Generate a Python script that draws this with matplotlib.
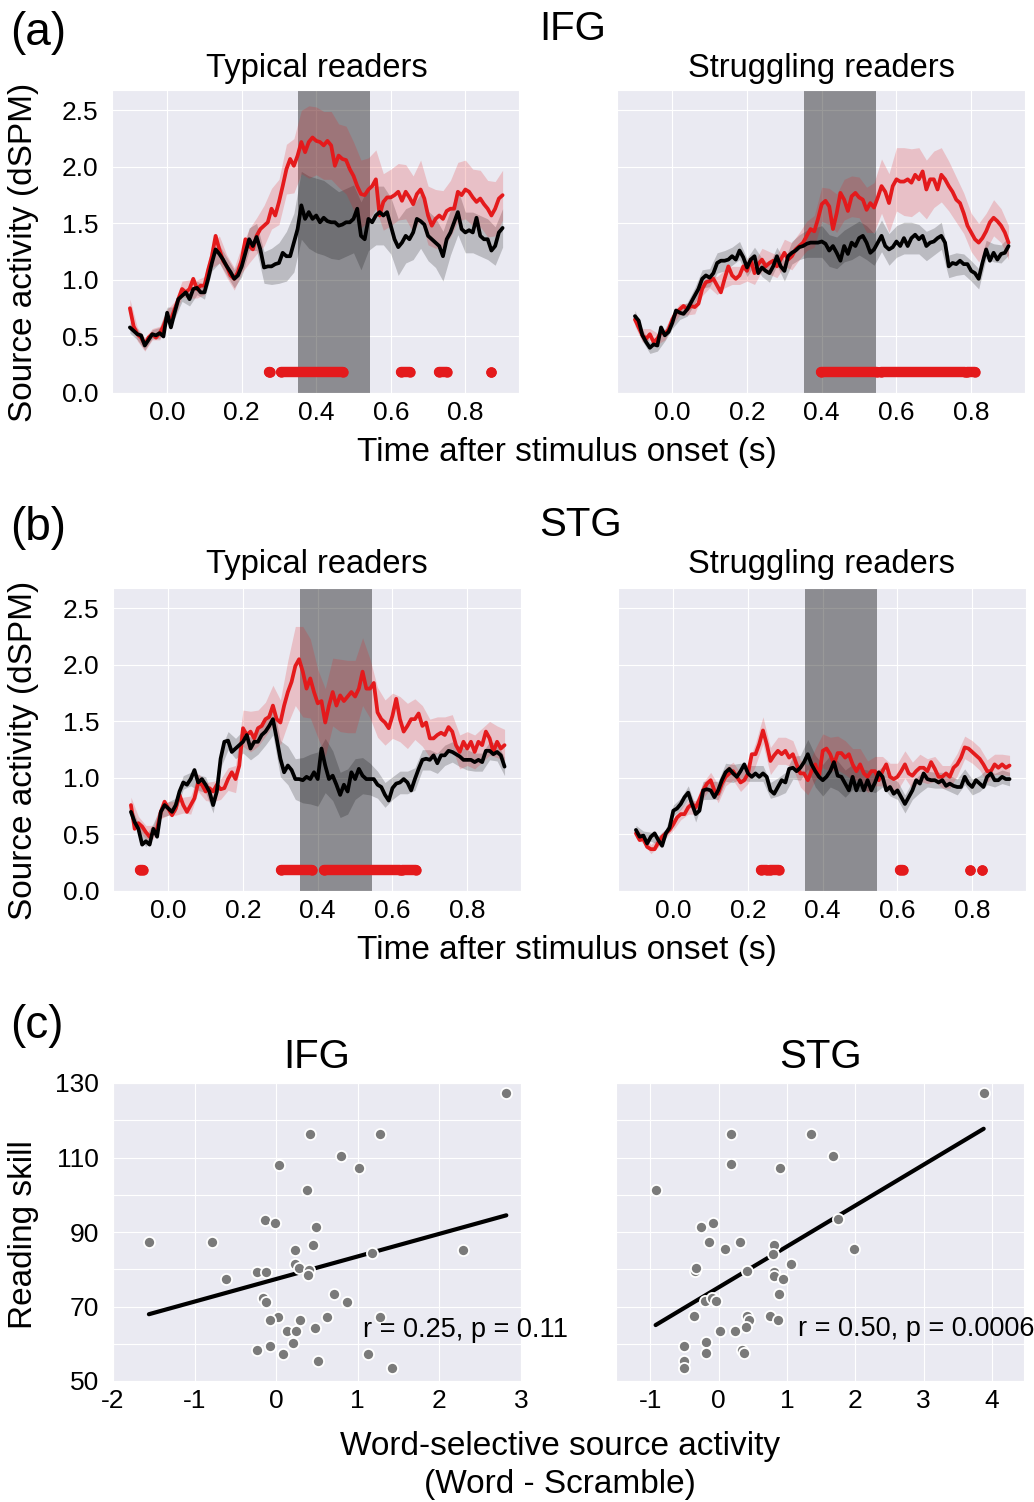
import numpy as np
import matplotlib
matplotlib.use('Agg')
import matplotlib.pyplot as plt
import seaborn as sns

sns.set_style('darkgrid')
plt.rcParams['font.family'] = ['Liberation Sans', 'DejaVu Sans']
plt.rcParams['text.color'] = 'black'
plt.rcParams['xtick.color'] = 'black'
plt.rcParams['ytick.color'] = 'black'

# ---------------- data ----------------
# sample times (s) of the source time courses, every 10 ms
times = np.linspace(-0.1, 0.9, 101)
# the confidence bands are read every 20 ms
band_times = times[::2]

# IFG, typical readers
ifg_typ_word = [0.75, 0.59, 0.52, 0.49, 0.43, 0.49, 0.52, 0.49, 0.53, 0.59,
                0.68, 0.65, 0.74, 0.83, 0.92, 0.89, 0.92, 1.01, 0.92, 0.95,
                0.95, 1.09, 1.21, 1.39, 1.27, 1.17, 1.12, 1.04, 1.01, 1.07,
                1.18, 1.36, 1.30, 1.27, 1.39, 1.45, 1.48, 1.51, 1.63, 1.57,
                1.69, 1.83, 1.98, 2.07, 2.01, 2.10, 2.22, 2.13, 2.22, 2.26,
                2.23, 2.22, 2.19, 2.23, 2.19, 2.01, 2.10, 2.07, 2.06, 1.98,
                1.92, 1.83, 1.76, 1.75, 1.80, 1.83, 1.89, 1.57, 1.69, 1.73,
                1.73, 1.75, 1.78, 1.70, 1.78, 1.73, 1.67, 1.76, 1.80, 1.72,
                1.57, 1.48, 1.54, 1.57, 1.54, 1.61, 1.63, 1.63, 1.78, 1.75,
                1.80, 1.78, 1.73, 1.69, 1.72, 1.67, 1.63, 1.57, 1.63, 1.72,
                1.75]
ifg_typ_scr = [0.58, 0.55, 0.52, 0.51, 0.42, 0.47, 0.52, 0.51, 0.53, 0.50,
               0.71, 0.58, 0.71, 0.83, 0.86, 0.89, 0.83, 0.92, 0.93, 0.89,
               0.89, 1.01, 1.15, 1.27, 1.23, 1.18, 1.12, 1.07, 1.01, 1.04,
               1.12, 1.24, 1.36, 1.30, 1.38, 1.27, 1.11, 1.12, 1.12, 1.14,
               1.15, 1.24, 1.21, 1.21, 1.33, 1.45, 1.66, 1.54, 1.60, 1.54,
               1.57, 1.51, 1.55, 1.52, 1.51, 1.51, 1.48, 1.49, 1.51, 1.51,
               1.54, 1.63, 1.39, 1.36, 1.54, 1.51, 1.57, 1.60, 1.57, 1.60,
               1.48, 1.36, 1.29, 1.33, 1.39, 1.36, 1.42, 1.54, 1.52, 1.49,
               1.39, 1.36, 1.33, 1.30, 1.21, 1.36, 1.42, 1.51, 1.60, 1.45,
               1.42, 1.44, 1.42, 1.55, 1.39, 1.36, 1.36, 1.26, 1.30, 1.42,
               1.46]
ifg_typ_word_err = [0.08, 0.06, 0.06, 0.05, 0.06, 0.06, 0.07, 0.07, 0.08, 0.08, 0.08,
                    0.10, 0.12, 0.10, 0.10, 0.12, 0.15, 0.16, 0.18, 0.18, 0.20,
                    0.22, 0.24, 0.28, 0.32, 0.30, 0.30, 0.30, 0.28, 0.30, 0.30,
                    0.30, 0.28, 0.26, 0.25, 0.25, 0.25, 0.24, 0.25, 0.26, 0.26,
                    0.26, 0.25, 0.25, 0.26, 0.26, 0.25, 0.25, 0.25, 0.24, 0.22]
ifg_typ_scr_err = [0.05, 0.05, 0.04, 0.04, 0.05, 0.05, 0.05, 0.05, 0.06, 0.06, 0.06,
                   0.07, 0.08, 0.08, 0.08, 0.09, 0.10, 0.12, 0.14, 0.16, 0.18,
                   0.22, 0.26, 0.30, 0.32, 0.33, 0.33, 0.32, 0.30, 0.30, 0.30,
                   0.30, 0.28, 0.26, 0.26, 0.25, 0.25, 0.24, 0.24, 0.24, 0.22,
                   0.22, 0.22, 0.20, 0.20, 0.18, 0.18, 0.18, 0.18, 0.17, 0.17]

# IFG, struggling readers
ifg_str_word = [0.65, 0.58, 0.51, 0.48, 0.52, 0.45, 0.48, 0.54, 0.52, 0.56,
                0.65, 0.71, 0.74, 0.77, 0.74, 0.77, 0.76, 0.79, 0.92, 0.98,
                0.99, 1.01, 0.95, 0.89, 1.01, 1.12, 1.04, 1.01, 1.04, 1.12,
                1.08, 1.18, 1.06, 1.14, 1.18, 1.12, 1.15, 1.17, 1.12, 1.18,
                1.24, 1.18, 1.21, 1.27, 1.30, 1.33, 1.39, 1.45, 1.43, 1.54,
                1.67, 1.70, 1.65, 1.45, 1.59, 1.77, 1.71, 1.61, 1.74, 1.77,
                1.73, 1.71, 1.62, 1.68, 1.64, 1.73, 1.83, 1.78, 1.68, 1.83,
                1.89, 1.87, 1.87, 1.89, 1.86, 1.93, 1.89, 1.96, 1.80, 1.89,
                1.89, 1.80, 1.93, 1.89, 1.83, 1.78, 1.71, 1.68, 1.59, 1.48,
                1.42, 1.36, 1.33, 1.37, 1.43, 1.51, 1.55, 1.52, 1.48, 1.42,
                1.33]
ifg_str_scr = [0.68, 0.64, 0.51, 0.45, 0.40, 0.43, 0.42, 0.58, 0.51, 0.54,
               0.62, 0.73, 0.71, 0.70, 0.74, 0.80, 0.86, 0.92, 1.01, 1.04,
               1.02, 1.06, 1.15, 1.17, 1.17, 1.18, 1.21, 1.18, 1.26, 1.20,
               1.11, 1.18, 1.21, 1.06, 1.11, 1.08, 1.06, 1.12, 1.21, 1.12,
               1.08, 1.21, 1.24, 1.26, 1.29, 1.30, 1.32, 1.33, 1.33, 1.33,
               1.34, 1.32, 1.26, 1.30, 1.24, 1.17, 1.30, 1.23, 1.33, 1.30,
               1.37, 1.39, 1.33, 1.24, 1.27, 1.33, 1.39, 1.30, 1.27, 1.29,
               1.34, 1.30, 1.37, 1.30, 1.37, 1.40, 1.36, 1.39, 1.30, 1.33,
               1.34, 1.37, 1.39, 1.33, 1.12, 1.15, 1.14, 1.17, 1.14, 1.14,
               1.08, 1.06, 1.01, 1.15, 1.27, 1.17, 1.24, 1.18, 1.23, 1.24,
               1.30]
ifg_str_word_err = [0.06, 0.06, 0.05, 0.05, 0.05, 0.05, 0.05, 0.05, 0.06, 0.06, 0.06,
                    0.08, 0.08, 0.08, 0.08, 0.09, 0.10, 0.10, 0.10, 0.10, 0.12,
                    0.12, 0.12, 0.13, 0.14, 0.15, 0.16, 0.17, 0.18, 0.18, 0.18,
                    0.20, 0.22, 0.24, 0.26, 0.28, 0.30, 0.30, 0.28, 0.26, 0.25,
                    0.24, 0.22, 0.20, 0.18, 0.17, 0.17, 0.16, 0.16, 0.15, 0.15]
ifg_str_scr_err = [0.05, 0.05, 0.05, 0.05, 0.05, 0.05, 0.06, 0.06, 0.07, 0.08, 0.08,
                   0.09, 0.09, 0.08, 0.08, 0.08, 0.08, 0.08, 0.08, 0.08, 0.09,
                   0.10, 0.11, 0.12, 0.13, 0.14, 0.14, 0.14, 0.14, 0.15, 0.15,
                   0.15, 0.14, 0.14, 0.14, 0.14, 0.14, 0.14, 0.13, 0.13, 0.12,
                   0.12, 0.10, 0.10, 0.09, 0.09, 0.09, 0.08, 0.08, 0.08, 0.08]

# STG, typical readers
stg_typ_word = [0.76, 0.55, 0.60, 0.57, 0.52, 0.48, 0.52, 0.55, 0.70, 0.79,
                0.73, 0.67, 0.73, 0.85, 0.76, 0.70, 0.76, 0.82, 0.96, 0.94,
                0.88, 0.91, 0.88, 0.94, 0.90, 0.91, 0.99, 1.05, 0.99, 1.11,
                1.44, 1.38, 1.41, 1.35, 1.44, 1.46, 1.52, 1.54, 1.64, 1.52,
                1.49, 1.64, 1.76, 1.85, 1.99, 2.05, 1.94, 1.79, 1.88, 1.76,
                1.66, 1.68, 1.49, 1.64, 1.76, 1.64, 1.73, 1.68, 1.72, 1.76,
                1.72, 1.79, 1.94, 1.79, 1.79, 1.84, 1.58, 1.52, 1.49, 1.44,
                1.55, 1.70, 1.52, 1.41, 1.46, 1.52, 1.52, 1.57, 1.46, 1.49,
                1.35, 1.35, 1.38, 1.40, 1.38, 1.45, 1.41, 1.29, 1.23, 1.32,
                1.26, 1.32, 1.23, 1.32, 1.29, 1.41, 1.35, 1.23, 1.32, 1.26,
                1.29]
stg_typ_scr = [0.70, 0.61, 0.55, 0.41, 0.44, 0.41, 0.55, 0.48, 0.70, 0.76,
               0.73, 0.70, 0.76, 0.88, 0.96, 0.94, 0.99, 1.07, 0.96, 0.99,
               0.94, 0.88, 0.76, 0.88, 1.17, 1.32, 1.33, 1.23, 1.26, 1.29,
               1.32, 1.38, 1.26, 1.32, 1.32, 1.38, 1.41, 1.46, 1.52, 1.35,
               1.17, 1.05, 1.11, 1.07, 0.99, 0.99, 0.98, 1.01, 0.99, 1.05,
               0.99, 1.26, 1.11, 0.99, 1.02, 0.94, 0.85, 0.94, 0.88, 1.05,
               0.99, 1.08, 1.02, 0.99, 0.99, 0.99, 0.94, 0.92, 0.85, 0.80,
               0.91, 0.95, 0.96, 0.99, 0.96, 0.89, 0.99, 1.08, 1.16, 1.17,
               1.16, 1.20, 1.13, 1.20, 1.20, 1.24, 1.23, 1.21, 1.19, 1.16,
               1.16, 1.16, 1.14, 1.16, 1.14, 1.24, 1.24, 1.21, 1.23, 1.20,
               1.10]
stg_typ_word_err = [0.07, 0.06, 0.06, 0.06, 0.06, 0.06, 0.06, 0.07, 0.08, 0.08, 0.08,
                    0.09, 0.09, 0.10, 0.12, 0.16, 0.18, 0.16, 0.15, 0.18, 0.20,
                    0.28, 0.35, 0.40, 0.35, 0.30, 0.30, 0.30, 0.32, 0.32, 0.32,
                    0.30, 0.26, 0.22, 0.20, 0.20, 0.20, 0.20, 0.18, 0.18, 0.17,
                    0.16, 0.16, 0.15, 0.15, 0.15, 0.15, 0.15, 0.15, 0.14, 0.14]
stg_typ_scr_err = [0.05, 0.05, 0.05, 0.05, 0.05, 0.06, 0.06, 0.06, 0.06, 0.07, 0.07,
                   0.07, 0.08, 0.08, 0.09, 0.10, 0.10, 0.11, 0.12, 0.14, 0.16,
                   0.17, 0.18, 0.20, 0.22, 0.24, 0.24, 0.22, 0.20, 0.20, 0.18,
                   0.16, 0.14, 0.12, 0.11, 0.10, 0.10, 0.10, 0.10, 0.09, 0.09,
                   0.09, 0.09, 0.09, 0.09, 0.09, 0.08, 0.08, 0.08, 0.08, 0.08]

# STG, struggling readers
stg_str_word = [0.51, 0.45, 0.46, 0.39, 0.37, 0.37, 0.43, 0.48, 0.51, 0.54,
                0.59, 0.65, 0.68, 0.68, 0.74, 0.77, 0.74, 0.81, 0.89, 0.95,
                0.98, 0.89, 0.86, 0.95, 1.01, 1.04, 1.06, 1.01, 0.96, 0.98,
                1.04, 1.21, 1.21, 1.30, 1.42, 1.30, 1.15, 1.20, 1.24, 1.21,
                1.24, 1.18, 1.21, 1.12, 1.04, 1.04, 0.98, 1.06, 1.12, 1.01,
                1.24, 1.26, 1.21, 1.12, 1.22, 1.22, 1.18, 1.21, 1.12, 1.06,
                1.12, 1.04, 1.01, 1.06, 1.06, 0.98, 1.06, 1.12, 1.01, 0.99,
                1.01, 1.06, 1.12, 1.04, 1.02, 1.06, 1.09, 1.09, 1.06, 1.14,
                1.08, 1.01, 1.01, 1.04, 1.01, 1.09, 1.12, 1.18, 1.27, 1.26,
                1.23, 1.20, 1.17, 1.12, 1.06, 1.06, 1.12, 1.09, 1.12, 1.09,
                1.11]
stg_str_scr = [0.54, 0.48, 0.49, 0.42, 0.48, 0.51, 0.45, 0.40, 0.51, 0.56,
               0.71, 0.73, 0.77, 0.83, 0.87, 0.77, 0.68, 0.71, 0.89, 0.90,
               0.89, 0.83, 0.89, 0.98, 1.05, 1.08, 1.04, 1.01, 1.06, 1.12,
               1.04, 1.01, 1.04, 1.01, 1.04, 1.01, 0.89, 0.86, 0.92, 0.98,
               0.96, 1.08, 1.09, 1.06, 1.09, 1.14, 1.21, 1.12, 1.06, 1.01,
               0.98, 1.01, 1.06, 1.14, 1.02, 1.01, 0.95, 0.89, 1.01, 0.89,
               0.98, 0.89, 0.98, 0.89, 0.96, 1.05, 1.01, 0.89, 0.92, 0.86,
               0.89, 0.83, 0.77, 0.83, 0.89, 0.98, 0.95, 1.04, 0.99, 0.98,
               0.98, 0.96, 0.98, 0.93, 0.95, 0.93, 0.92, 0.92, 1.01, 0.95,
               0.92, 0.98, 0.95, 0.92, 1.01, 1.04, 0.98, 0.98, 1.01, 0.99,
               0.99]
stg_str_word_err = [0.04, 0.04, 0.04, 0.04, 0.04, 0.05, 0.05, 0.06, 0.06, 0.07, 0.07,
                    0.08, 0.08, 0.08, 0.08, 0.09, 0.10, 0.12, 0.12, 0.12, 0.12,
                    0.12, 0.12, 0.13, 0.14, 0.15, 0.15, 0.15, 0.15, 0.14, 0.14,
                    0.14, 0.13, 0.13, 0.12, 0.12, 0.12, 0.12, 0.12, 0.11, 0.11,
                    0.10, 0.10, 0.10, 0.10, 0.10, 0.10, 0.10, 0.09, 0.09, 0.09]
stg_str_scr_err = [0.04, 0.04, 0.04, 0.04, 0.04, 0.05, 0.05, 0.06, 0.07, 0.08, 0.08,
                   0.08, 0.08, 0.08, 0.07, 0.07, 0.07, 0.07, 0.07, 0.08, 0.09,
                   0.10, 0.11, 0.13, 0.14, 0.14, 0.14, 0.13, 0.12, 0.11, 0.10,
                   0.09, 0.09, 0.09, 0.08, 0.08, 0.08, 0.08, 0.08, 0.07, 0.07,
                   0.07, 0.07, 0.07, 0.07, 0.07, 0.07, 0.07, 0.06, 0.06, 0.06]

# time windows (start, end) where word vs scramble differ
ifg_typ_sig = [(0.272, 0.277), (0.305, 0.472), (0.628, 0.651), (0.729, 0.750), (0.869, 0.869)]
ifg_str_sig = [(0.397, 0.548), (0.558, 0.783), (0.790, 0.811)]
stg_typ_sig = [(-0.077, -0.068), (0.302, 0.385), (0.418, 0.620), (0.625, 0.664)]
stg_str_sig = [(0.234, 0.250), (0.258, 0.283), (0.607, 0.616), (0.795, 0.795), (0.826, 0.826)]
sig_level = 0.19

# analysis window shown in grey
window = (0.352, 0.544)

# word-selective activity vs reading skill
ifg_x = [2.82, 0.41, 1.27, 0.80, 0.03, 1.02, 0.38, -0.14, -0.01, 0.49, -1.56, -0.79,
         0.45, 0.23, 2.29, 1.18, 0.23, 0.28, 0.40, 0.39, -0.23, -0.13, -0.61, 0.71,
         0.87, -0.16, -0.12, 0.02, -0.07, 0.29, 0.62, 1.27, 0.13, 0.24, 0.48, 0.20,
         -0.24, -0.08, 0.08, 1.12, 0.51, 1.42]
ifg_skill = [127.2, 116.3, 116.3, 110.3, 108.1, 107.3, 101.2, 93.3, 92.3, 91.3, 87.3, 87.3,
             86.4, 85.2, 85.3, 84.3, 81.3, 80.3, 79.7, 78.4, 79.3, 79.3, 77.3, 73.4,
             71.3, 72.3, 71.3, 67.3, 66.4, 66.4, 67.3, 67.3, 63.3, 63.3, 64.3, 60.3,
             58.3, 59.3, 57.3, 57.3, 55.3, 53.4]
stg_x = [3.88, 0.19, 1.36, 1.67, 0.19, 0.90, -0.92, 1.75, -0.26, -0.08, -0.14, 0.10,
         0.31, 0.81, 0.79, 1.98, 1.06, -0.35, -0.33, 0.41, 0.81, 0.81, 0.94, 0.89,
         -0.20, -0.09, -0.03, -0.36, 0.42, 0.45, 0.76, 0.87, 0.40, 0.02, 0.24, -0.18,
         -0.51, -0.18, 0.35, 0.37, -0.51, -0.51]
stg_skill = [127.3, 116.4, 116.4, 110.3, 108.3, 107.3, 101.3, 93.4, 91.3, 92.3, 87.4, 85.4,
             87.4, 86.5, 84.2, 85.4, 81.4, 79.6, 80.4, 79.4, 79.3, 78.3, 77.4, 73.3,
             71.5, 72.4, 71.5, 67.4, 67.4, 66.5, 67.4, 66.5, 64.4, 63.4, 63.4, 60.4,
             59.4, 57.4, 58.4, 57.5, 55.4, 53.4]
ifg_stats = 'r = 0.25, p = 0.11'
stg_stats = 'r = 0.50, p = 0.0006'

# ---------------- drawing ----------------
RED = '#e41a1c'
W, H = 1034, 1502
TICK_FS = 19


def px_axes(fig, x0, y0, x1, y1):
    """add axes from pixel box (left, top, right, bottom)"""
    return fig.add_axes([x0 / W, 1 - y1 / H, (x1 - x0) / W, (y1 - y0) / H])


def px_text(fig, x, y, s, **kw):
    fig.text(x / W, 1 - y / H, s, **kw)


def plot_course(ax, word, scr, word_err, scr_err, sig, show_y):
    word = np.asarray(word)
    scr = np.asarray(scr)
    ax.axvspan(window[0], window[1], color='k', alpha=0.4, lw=0, zorder=1)
    ax.fill_between(band_times, scr[::2] - scr_err, scr[::2] + scr_err,
                    color='k', alpha=0.2, lw=0, zorder=2)
    ax.fill_between(band_times, word[::2] - word_err, word[::2] + word_err,
                    color=RED, alpha=0.2, lw=0, zorder=2)
    ax.plot(times, word, color=RED, lw=2.7, zorder=3)
    ax.plot(times, scr, color='k', lw=2.7, zorder=4)
    for s, e in sig:
        ax.plot([s, e], [sig_level, sig_level], color=RED, lw=7.5,
                solid_capstyle='round', marker='o', ms=7.5, mew=0, zorder=5)
    ax.set_xlim(-0.148, 0.944)
    ax.set_ylim(0, 2.68)
    ax.set_xticks([0, 0.2, 0.4, 0.6, 0.8])
    ax.set_xticklabels(['0.0', '0.2', '0.4', '0.6', '0.8'])
    ax.set_yticks([0, 0.5, 1.0, 1.5, 2.0, 2.5])
    if show_y:
        ax.set_yticklabels(['0.0', '0.5', '1.0', '1.5', '2.0', '2.5'])
    else:
        ax.set_yticklabels([])
    ax.tick_params(axis='both', labelsize=TICK_FS, length=0)
    ax.tick_params(axis='x', pad=6)
    ax.tick_params(axis='y', pad=10)


def plot_scatter(ax, x, y, stats, xlim, xticks, text_xy, show_y):
    x = np.asarray(x)
    y = np.asarray(y)
    slope, icpt = np.polyfit(x, y, 1)
    xs = np.array([x.min(), x.max()])
    ax.plot(xs, icpt + slope * xs, color='k', lw=3, zorder=2)
    ax.scatter(x, y, s=64, color='#7a7a7a', edgecolor='white', linewidth=1.3, zorder=3)
    ax.text(text_xy[0], text_xy[1], stats, fontsize=19.5, va='center', ha='left', zorder=4)
    ax.set_xlim(*xlim)
    ax.set_ylim(50, 130)
    ax.set_xticks(xticks)
    ax.set_xticklabels([str(t) for t in xticks])
    ax.set_yticks(range(50, 131, 10))
    if show_y:
        ax.set_yticklabels([str(v) if v % 20 == 10 else '' for v in range(50, 131, 10)])
    else:
        ax.set_yticklabels([])
    ax.tick_params(axis='both', labelsize=TICK_FS, length=0)
    ax.tick_params(axis='x', pad=6)
    ax.tick_params(axis='y', pad=10)


fig = plt.figure(figsize=(W / 100, H / 100), dpi=100)

ax1 = px_axes(fig, 112, 90, 519, 393)
ax2 = px_axes(fig, 617, 90, 1025, 393)
ax3 = px_axes(fig, 113, 588, 521, 891)
ax4 = px_axes(fig, 618, 588, 1026, 891)
ax5 = px_axes(fig, 113, 1083, 521, 1381)
ax6 = px_axes(fig, 616, 1083, 1024, 1381)

plot_course(ax1, ifg_typ_word, ifg_typ_scr, ifg_typ_word_err, ifg_typ_scr_err, ifg_typ_sig, True)
plot_course(ax2, ifg_str_word, ifg_str_scr, ifg_str_word_err, ifg_str_scr_err, ifg_str_sig, False)
plot_course(ax3, stg_typ_word, stg_typ_scr, stg_typ_word_err, stg_typ_scr_err, stg_typ_sig, True)
plot_course(ax4, stg_str_word, stg_str_scr, stg_str_word_err, stg_str_scr_err, stg_str_sig, False)

plot_scatter(ax5, ifg_x, ifg_skill, ifg_stats, (-2, 3), [-2, -1, 0, 1, 2, 3], (1.06, 63.6), True)
plot_scatter(ax6, stg_x, stg_skill, stg_stats, (-1.5, 4.47), [-1, 0, 1, 2, 3, 4], (1.17, 64.0), False)

# panel letters and titles
px_text(fig, 10, 33, '(a)', fontsize=33, va='center', ha='left')
px_text(fig, 10, 528, '(b)', fontsize=33, va='center', ha='left')
px_text(fig, 10, 1026, '(c)', fontsize=33, va='center', ha='left')
px_text(fig, 573, 29, 'IFG', fontsize=29, va='center', ha='center')
px_text(fig, 580, 525, 'STG', fontsize=29, va='center', ha='center')
for yy in (69, 564):
    px_text(fig, 317, yy, 'Typical readers', fontsize=23.5, va='center', ha='center')
    px_text(fig, 821, yy, 'Struggling readers', fontsize=23.5, va='center', ha='center')
px_text(fig, 317, 1057, 'IFG', fontsize=29, va='center', ha='center')
px_text(fig, 820, 1057, 'STG', fontsize=29, va='center', ha='center')

# axis labels
for yy in (453, 950):
    px_text(fig, 567, yy, 'Time after stimulus onset (s)', fontsize=24, va='center', ha='center')
for yy in (252, 750):
    px_text(fig, 24, yy, 'Source activity (dSPM)', fontsize=24, va='center', ha='center', rotation=90)
px_text(fig, 24, 1235, 'Reading skill', fontsize=24, va='center', ha='center', rotation=90)
px_text(fig, 560, 1447, 'Word-selective source activity', fontsize=24, va='center', ha='center')
px_text(fig, 560, 1485, '(Word - Scramble)', fontsize=24, va='center', ha='center')

fig.savefig('out.png', dpi=100)
